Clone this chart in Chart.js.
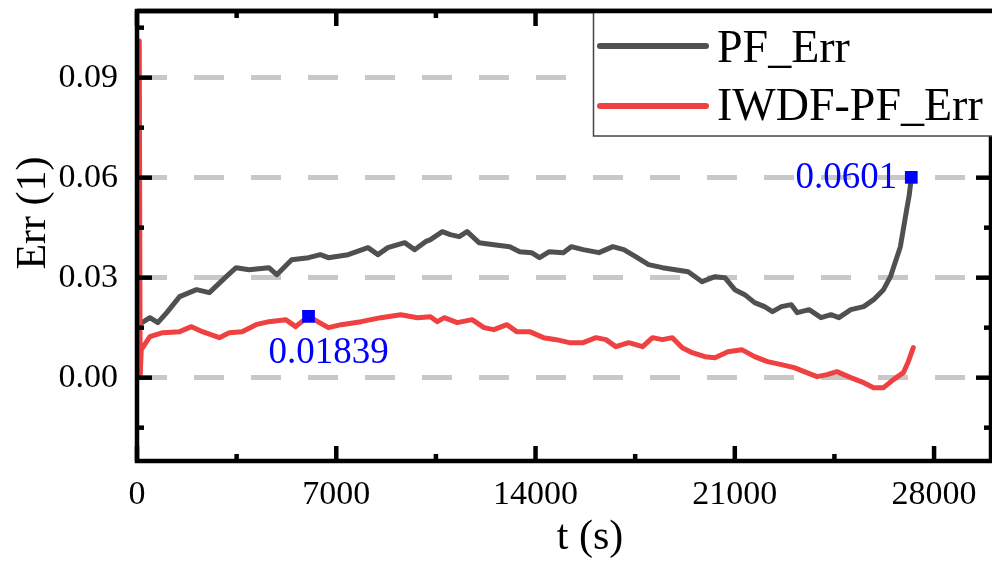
<!DOCTYPE html>
<html>
<head>
<meta charset="utf-8">
<script src="https://cdn.jsdelivr.net/npm/chart.js@4.4.1/dist/chart.umd.min.js"></script>
<style>
  html, body { margin: 0; padding: 0; background: #fff; overflow: hidden; }
  #wrap { width: 1000px; height: 565px; }
</style>
</head>
<body>
<div id="wrap"><canvas id="errChart" width="1000" height="565"></canvas></div>
<script>
// values
const seriesNames = ['PF_Err', 'IWDF-PF_Err'];

const pfTime = [35, 174, 453, 731, 1045, 1498, 2090, 2542, 3134, 3483,
  3935, 4632, 4910, 5433, 6025, 6443, 6721, 7418, 8114, 8463,
  8811, 9403, 9751, 10134, 10309, 10727, 11005, 11318, 11597, 12015,
  12537, 13095, 13443, 13861, 14139, 14488, 14975, 15254, 15672, 16229,
  16716, 17100, 17517, 17970, 18458, 18911, 19363, 19851, 20304, 20652,
  21000, 21348, 21697, 22045, 22324, 22637, 22985, 23194, 23612, 24030,
  24378, 24657, 25075, 25527, 25876, 26224, 26468, 26642, 26816, 27025,
  27130, 27200];
const pfErr = [0.0168, 0.0165, 0.018, 0.0165, 0.0195, 0.0243, 0.0264, 0.0255, 0.0303, 0.033,
  0.0324, 0.033, 0.0309, 0.0354, 0.036, 0.0369, 0.036, 0.0369, 0.039, 0.0369,
  0.039, 0.0405, 0.0384, 0.0408, 0.0414, 0.0438, 0.0429, 0.0423, 0.0438, 0.0405,
  0.0399, 0.0393, 0.0378, 0.0375, 0.036, 0.0378, 0.0375, 0.0393, 0.0384, 0.0375,
  0.0393, 0.0384, 0.0363, 0.0339, 0.033, 0.0324, 0.0318, 0.0288, 0.0303, 0.03,
  0.0264, 0.0249, 0.0225, 0.0213, 0.0198, 0.0213, 0.0219, 0.0195, 0.0204, 0.018,
  0.0189, 0.018, 0.0204, 0.0213, 0.0234, 0.0264, 0.0303, 0.0348, 0.0393, 0.0498,
  0.0549, 0.0601];

const iwTime = [80, 110, 150, 453, 905, 1498, 1915, 2299, 2891, 3239,
  3692, 4179, 4632, 5224, 5572, 6025, 6721, 7174, 7871, 8567,
  9264, 9856, 10309, 10552, 10796, 11249, 11771, 12189, 12537, 12990,
  13338, 13791, 14279, 14731, 15184, 15672, 16124, 16473, 16821, 17274,
  17761, 18110, 18458, 18806, 19154, 19503, 19955, 20304, 20757, 21244,
  21697, 22149, 22637, 23090, 23438, 23891, 24239, 24587, 25075, 25527,
  25876, 26224, 26572, 26921, 27095, 27270];
const iwErr = [0.101, 0.0, 0.0084, 0.0123, 0.0135, 0.0138, 0.0153, 0.0138, 0.012, 0.0135,
  0.0138, 0.0159, 0.0168, 0.0174, 0.0153, 0.0184, 0.015, 0.0159, 0.0168, 0.018,
  0.0189, 0.018, 0.0183, 0.0168, 0.018, 0.0165, 0.0174, 0.015, 0.0144, 0.0159,
  0.0138, 0.0138, 0.012, 0.0114, 0.0105, 0.0105, 0.012, 0.0114, 0.0093, 0.0105,
  0.0093, 0.012, 0.0114, 0.012, 0.009, 0.0075, 0.0063, 0.006, 0.0078, 0.0084,
  0.0063, 0.0048, 0.0039, 0.003, 0.0018, 0.0003, 0.0009, 0.0018, 0.0, -0.0015,
  -0.003, -0.003, -0.0006, 0.0015, 0.0048, 0.009];

const markTime = [6025, 27200];
const markErr = [0.01839, 0.0601];
const markText = ['0.01839', '0.0601'];

const xTicks = [0, 7000, 14000, 21000, 28000];
const xMinor = [3500, 10500, 17500, 24500];
const yTicks = [0, 0.03, 0.06, 0.09];
const yMinor = [-0.015, 0.015, 0.045, 0.075, 0.105];

const serif = "'Liberation Serif', 'Times New Roman', serif";
const pfColor = '#505050';
const iwColor = '#ef4141';
const blue = '#0000ff';

const toPoints = (ts, vs) => ts.map((t, i) => ({ x: t, y: vs[i] }));

// frame with inward ticks, labels, legend box and axis titles
const framePlugin = {
  id: 'frame',
  afterDatasetsDraw(chart) {
    const { ctx, chartArea: a, scales: { x, y } } = chart;
    ctx.save();

    const seg = (x1, y1, x2, y2) => {
      ctx.beginPath();
      ctx.moveTo(x1, y1);
      ctx.lineTo(x2, y2);
      ctx.stroke();
    };

    ctx.strokeStyle = '#000';
    ctx.lineWidth = 4.5;
    ctx.strokeRect(a.left, a.top, a.right - a.left, a.bottom - a.top);

    ctx.lineWidth = 4.5;
    xTicks.forEach(v => {
      const px = x.getPixelForValue(v);
      seg(px, a.bottom, px, a.bottom - 15);
      seg(px, a.top, px, a.top + 15);
    });
    xMinor.forEach(v => {
      const px = x.getPixelForValue(v);
      seg(px, a.bottom, px, a.bottom - 7);
      seg(px, a.top, px, a.top + 7);
    });
    yTicks.forEach(v => {
      const py = y.getPixelForValue(v);
      seg(a.left, py, a.left + 15, py);
      seg(a.right, py, a.right - 15, py);
    });
    yMinor.forEach(v => {
      const py = y.getPixelForValue(v);
      seg(a.left, py, a.left + 7, py);
      seg(a.right, py, a.right - 7, py);
    });

    // value labels next to the blue markers
    ctx.fillStyle = blue;
    ctx.font = '37px ' + serif;
    ctx.textBaseline = 'middle';
    const m0x = x.getPixelForValue(markTime[0]);
    const m0y = y.getPixelForValue(markErr[0]);
    ctx.textAlign = 'center';
    ctx.fillText(markText[0], m0x + 20, m0y + 37);
    const m1x = x.getPixelForValue(markTime[1]);
    const m1y = y.getPixelForValue(markErr[1]);
    ctx.textAlign = 'right';
    ctx.fillText(markText[1], m1x - 14, m1y + 1);

    // legend
    const lx = 593, ly = a.top, lh = 125;
    ctx.fillStyle = '#fff';
    ctx.fillRect(lx, ly, a.right - lx + 10, lh);
    ctx.strokeStyle = '#444';
    ctx.lineWidth = 1.5;
    ctx.strokeRect(lx + 0.5, ly, a.right - lx + 10, lh);
    ctx.strokeStyle = '#000';
    ctx.lineWidth = 4.5;
    seg(a.left, a.top, a.right + 5, a.top);

    ctx.lineCap = 'round';
    ctx.lineWidth = 6;
    ctx.strokeStyle = pfColor;
    seg(600, ly + 35, 706, ly + 35);
    ctx.strokeStyle = iwColor;
    seg(600, ly + 95, 706, ly + 95);

    ctx.fillStyle = '#000';
    ctx.font = '46px ' + serif;
    ctx.textAlign = 'left';
    ctx.textBaseline = 'alphabetic';
    ctx.fillText(seriesNames[0], 717, ly + 51);
    ctx.fillText(seriesNames[1], 717, ly + 109);

    // axis titles
    ctx.font = '42px ' + serif;
    ctx.textAlign = 'center';
    ctx.textBaseline = 'middle';
    ctx.fillText('t (s)', 590, 538);
    ctx.translate(34, 213);
    ctx.rotate(-Math.PI / 2);
    ctx.fillText('Err (1)', 0, 0);

    ctx.restore();
  }
};

const noPad = s => {
  s.paddingTop = 0;
  s.paddingBottom = 0;
  s.paddingLeft = 0;
  s.paddingRight = 0;
};

const ctx = document.getElementById('errChart').getContext('2d');

new Chart(ctx, {
  type: 'line',
  data: {
    datasets: [
      {
        label: seriesNames[0],
        data: toPoints(pfTime, pfErr),
        borderColor: pfColor,
        borderWidth: 5,
        pointRadius: 0,
        tension: 0,
        borderJoinStyle: 'round',
        borderCapStyle: 'round',
        order: 2
      },
      {
        label: seriesNames[1],
        data: toPoints(iwTime, iwErr),
        borderColor: iwColor,
        borderWidth: 5,
        pointRadius: 0,
        tension: 0,
        borderJoinStyle: 'round',
        borderCapStyle: 'round',
        order: 1
      },
      {
        label: 'marks',
        data: toPoints(markTime, markErr),
        showLine: false,
        pointStyle: 'rect',
        pointRadius: 9,
        pointBackgroundColor: blue,
        pointBorderWidth: 0,
        order: 0
      }
    ]
  },
  options: {
    responsive: false,
    animation: false,
    layout: { padding: { top: 11, right: 2, left: 0, bottom: 0 } },
    plugins: {
      legend: { display: false },
      tooltip: { enabled: false }
    },
    scales: {
      x: {
        type: 'linear',
        min: 0,
        max: 30000,
        afterBuildTicks: s => { s.ticks = xTicks.map(v => ({ value: v })); },
        afterFit: s => { s.height = 104; noPad(s); },
        grid: { display: false, drawTicks: false },
        border: { display: false },
        ticks: {
          font: { family: serif, size: 34 },
          color: '#000',
          padding: 14,
          maxRotation: 0,
          autoSkip: false,
          callback: v => String(v)
        }
      },
      y: {
        min: -0.025,
        max: 0.11,
        afterBuildTicks: s => { s.ticks = yTicks.map(v => ({ value: v })); },
        afterFit: s => { s.width = 137; noPad(s); },
        grid: { color: '#c8c8c8', lineWidth: 5, drawTicks: false },
        border: { display: false, dash: [30, 27] },
        ticks: {
          font: { family: serif, size: 34 },
          color: '#000',
          padding: 19,
          callback: v => v.toFixed(2)
        }
      }
    }
  },
  plugins: [framePlugin]
});
</script>
</body>
</html>
